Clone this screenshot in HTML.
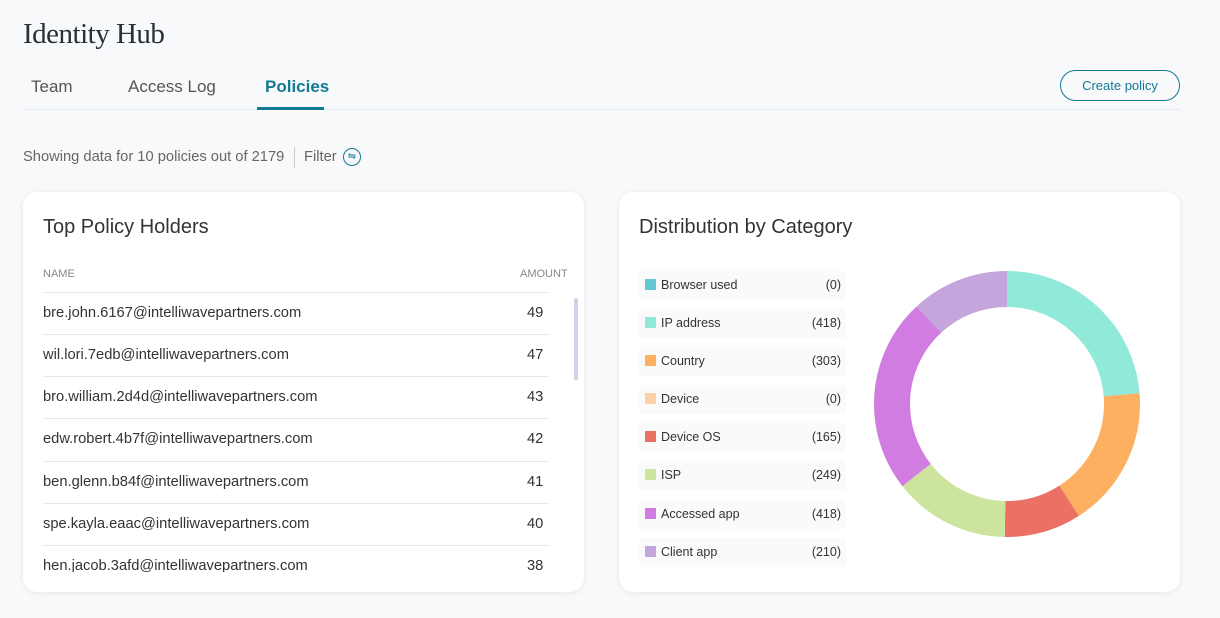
<!DOCTYPE html>
<html><head><style>
body{margin:0;width:1220px;height:618px;background:#f8f9fa;font-family:"Liberation Sans",sans-serif;color:#333;position:relative;overflow:hidden}
.abs{position:absolute}
h1{position:absolute;left:23px;top:18px;margin:0;font-family:"Liberation Serif",serif;font-weight:normal;font-size:29px;color:#2a2f38;letter-spacing:-0.5px}
.tab{position:absolute;top:77px;font-size:17px;color:#555}
.card{position:absolute;top:192px;width:561px;height:400px;background:#fff;border-radius:14px;box-shadow:0 1px 6px rgba(0,0,0,0.08)}
.ct{position:absolute;left:20px;top:24px;font-size:20px;color:#333}
.row{position:absolute;left:20px;width:506px;height:42px;border-top:1px solid #e4e6e8;font-size:14.7px;color:#333}
.row span{position:absolute;top:12px}
.lg{position:absolute;left:20px;width:207px;height:29px;background:#fafafa;border-radius:3px;font-size:12.5px;color:#333}
.lg i{position:absolute;left:6px;top:8px;width:11px;height:11px}
.lg b{font-weight:normal;position:absolute;left:22px;top:7px}
.lg em{font-style:normal;position:absolute;right:5px;top:7px}
</style></head><body>
<h1>Identity Hub</h1>
<div class="tab" style="left:31px">Team</div>
<div class="tab" style="left:128px">Access Log</div>
<div class="tab" style="left:265px;color:#137a93;font-weight:bold">Policies</div>
<div class="abs" style="left:23px;top:109px;width:1157px;height:1px;background:#e6eaee"></div>
<div class="abs" style="left:257px;top:107px;width:67px;height:3px;background:#137a93"></div>
<div class="abs" style="left:1060px;top:70px;width:118px;height:29px;border:1px solid #137a93;border-radius:16px;color:#137a93;font-size:13px;text-align:center;line-height:29px">Create policy</div>
<div class="abs" style="left:23px;top:149px;font-size:14.7px;color:#666">Showing data for 10 policies out of 2179</div>
<div class="abs" style="left:294px;top:147px;width:1px;height:21px;background:#ccc"></div>
<div class="abs" style="left:304px;top:149px;font-size:14.7px;color:#666">Filter</div>
<div class="abs" style="left:343px;top:148px;width:16px;height:16px;border:1.5px solid #137a93;border-radius:50%;color:#137a93;font-size:10px;line-height:16px;text-align:center">⇋</div>

<div class="card" style="left:23px">
<div class="ct">Top Policy Holders</div>
<div class="abs" style="left:20px;top:76px;font-size:11px;color:#888">NAME</div>
<div class="abs" style="left:497px;top:76px;font-size:11px;color:#888">AMOUNT</div>
<div class="abs" style="left:551px;top:106px;width:4px;height:82px;background:#cfd2e6;border-radius:2px"></div>
<div style="position:absolute;left:0;top:100px;width:561px;height:280px;overflow:hidden">
<div class="row" style="top:0"><span>bre.john.6167@intelliwavepartners.com</span><span style="left:484px">49</span></div>
<div class="row" style="top:42px"><span>wil.lori.7edb@intelliwavepartners.com</span><span style="left:484px">47</span></div>
<div class="row" style="top:84px"><span>bro.william.2d4d@intelliwavepartners.com</span><span style="left:484px">43</span></div>
<div class="row" style="top:126px"><span>edw.robert.4b7f@intelliwavepartners.com</span><span style="left:484px">42</span></div>
<div class="row" style="top:169px"><span>ben.glenn.b84f@intelliwavepartners.com</span><span style="left:484px">41</span></div>
<div class="row" style="top:211px"><span>spe.kayla.eaac@intelliwavepartners.com</span><span style="left:484px">40</span></div>
<div class="row" style="top:253px"><span>hen.jacob.3afd@intelliwavepartners.com</span><span style="left:484px">38</span></div>
</div>
</div>

<div class="card" style="left:619px">
<div class="ct">Distribution by Category</div>
<div class="lg" style="top:79px"><i style="background:#62c8d3"></i><b>Browser used</b><em>(0)</em></div>
<div class="lg" style="top:117px"><i style="background:#90e9d9"></i><b>IP address</b><em>(418)</em></div>
<div class="lg" style="top:155px"><i style="background:#fdb062"></i><b>Country</b><em>(303)</em></div>
<div class="lg" style="top:193px"><i style="background:#fdd0a5"></i><b>Device</b><em>(0)</em></div>
<div class="lg" style="top:231px"><i style="background:#ec7165"></i><b>Device OS</b><em>(165)</em></div>
<div class="lg" style="top:269px"><i style="background:#cde49e"></i><b>ISP</b><em>(249)</em></div>
<div class="lg" style="top:308px"><i style="background:#d17ce0"></i><b>Accessed app</b><em>(418)</em></div>
<div class="lg" style="top:346px"><i style="background:#c4a5dc"></i><b>Client app</b><em>(210)</em></div>
</div>
<svg class="abs" style="left:857px;top:254px" width="300" height="300" viewBox="0 0 300 300">
<g transform="rotate(-90 150 150)" fill="none" stroke-width="36">
<circle cx="150" cy="150" r="115" stroke="#90e9d9" stroke-dasharray="171.3 722.6" stroke-dashoffset="0"/>
<circle cx="150" cy="150" r="115" stroke="#fdb062" stroke-dasharray="124.2 722.6" stroke-dashoffset="-171.3"/>
<circle cx="150" cy="150" r="115" stroke="#ec7165" stroke-dasharray="67.6 722.6" stroke-dashoffset="-295.5"/>
<circle cx="150" cy="150" r="115" stroke="#cde49e" stroke-dasharray="102.1 722.6" stroke-dashoffset="-363.1"/>
<circle cx="150" cy="150" r="115" stroke="#d17ce0" stroke-dasharray="171.3 722.6" stroke-dashoffset="-465.2"/>
<circle cx="150" cy="150" r="115" stroke="#c4a5dc" stroke-dasharray="86.1 722.6" stroke-dashoffset="-636.5"/>
</g></svg>
</body></html>
